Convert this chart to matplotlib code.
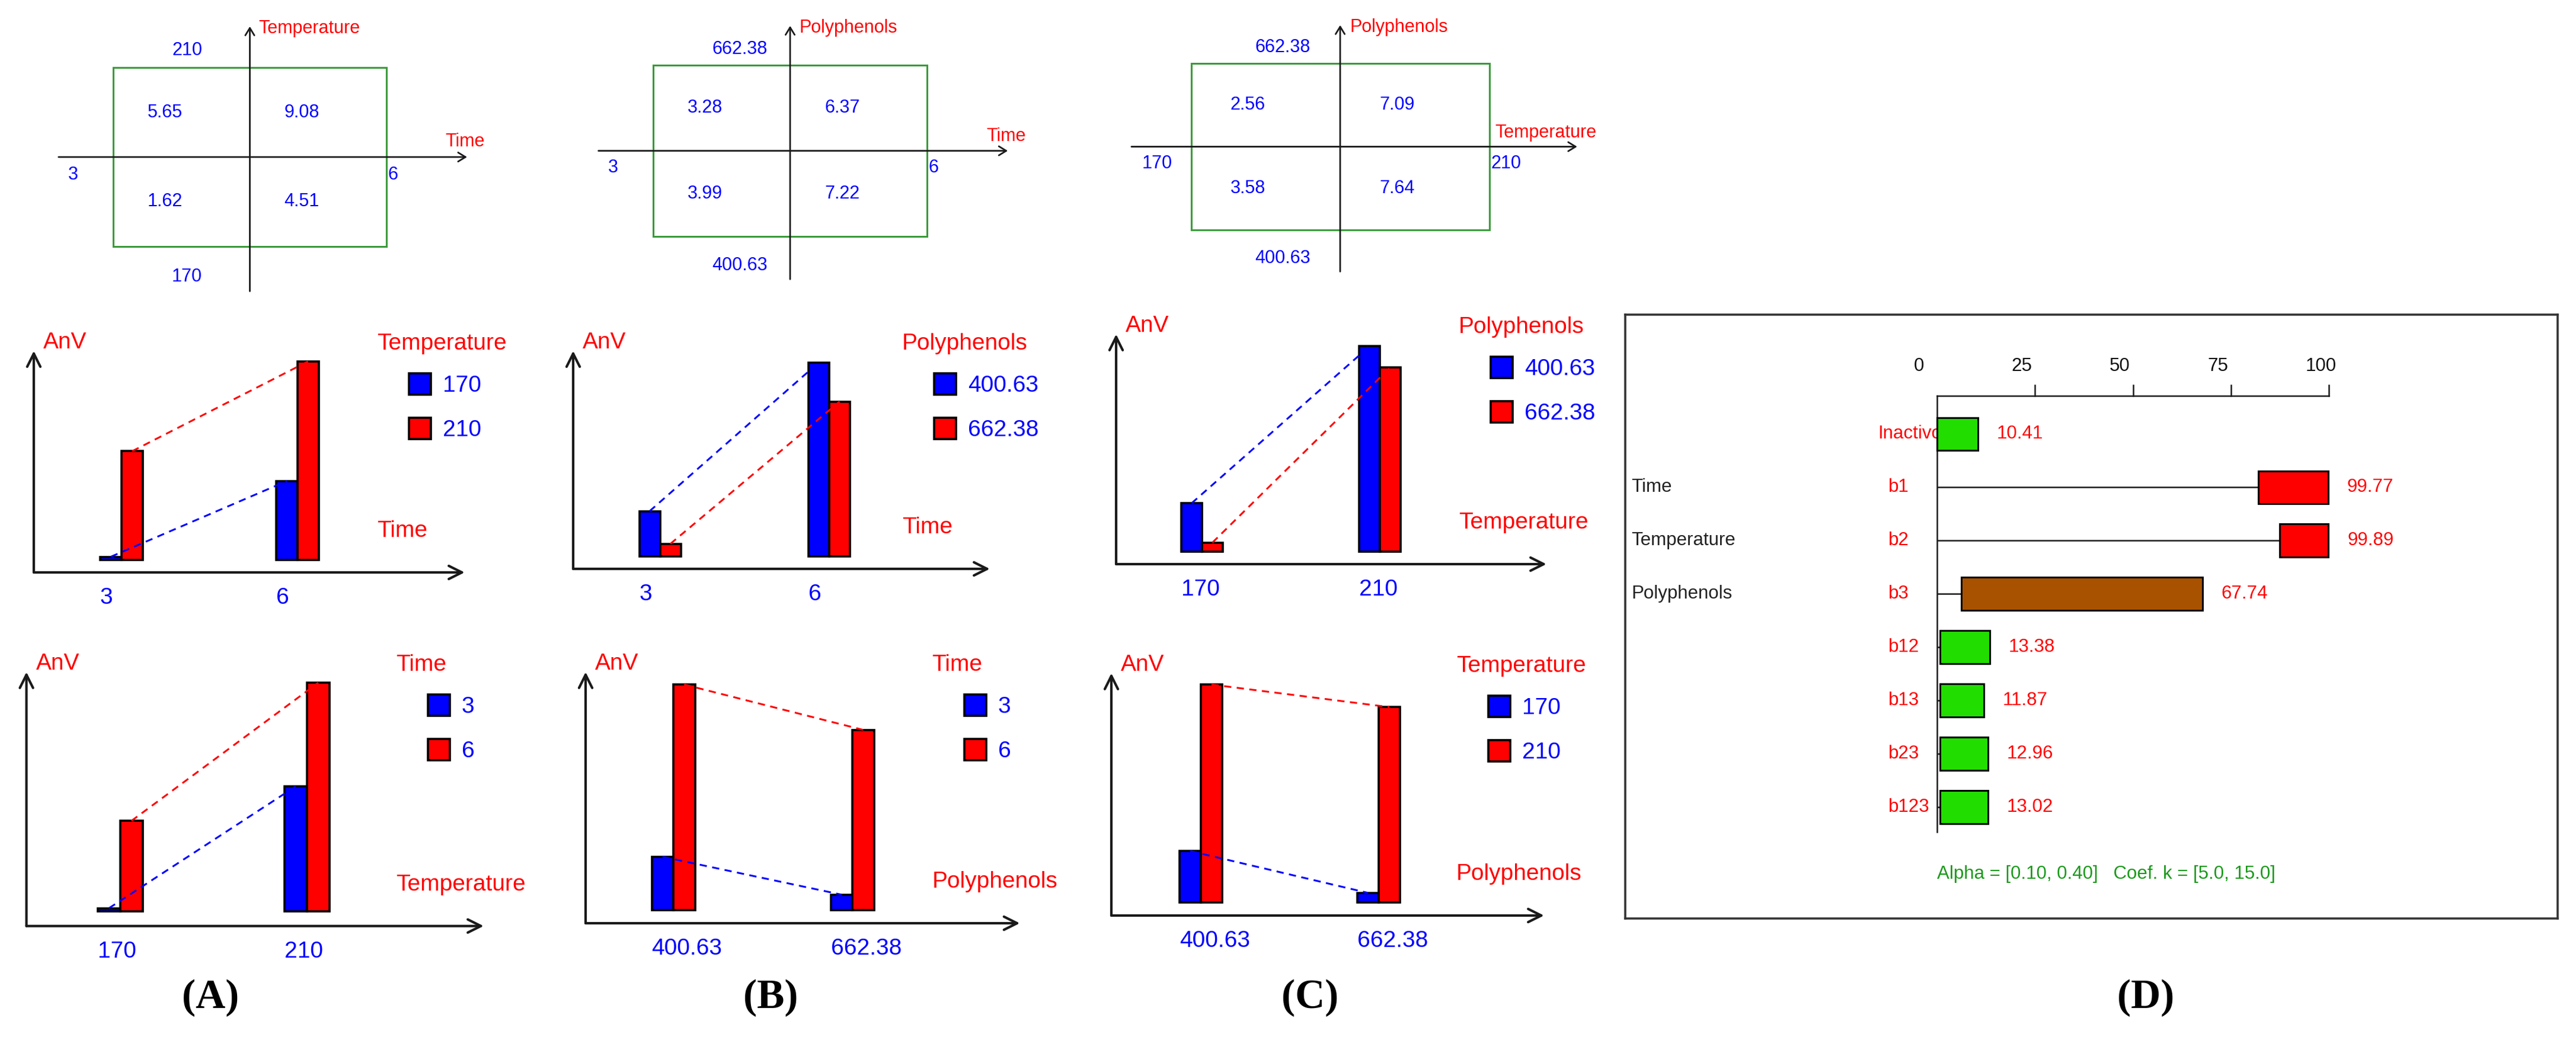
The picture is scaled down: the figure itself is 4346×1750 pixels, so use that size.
import numpy as np
import matplotlib
matplotlib.use('Agg')
import matplotlib.pyplot as plt
from matplotlib import transforms
from matplotlib import font_manager as fm
from matplotlib.patches import Rectangle

W, H = 4346, 1750

# factor levels
time_lv = ['3', '6']
temp_lv = ['170', '210']
poly_lv = ['400.63', '662.38']

# AnV at the corners of each 2x2 design, indexed [x level, y level]
anv_time_temp = np.array([[1.62, 5.65], [4.51, 9.08]])
anv_time_poly = np.array([[3.99, 3.28], [7.22, 6.37]])
anv_temp_poly = np.array([[3.58, 2.56], [7.64, 7.09]])

# effects chart (D)
eff_names = ['Inactivo', 'b1', 'b2', 'b3', 'b12', 'b13', 'b23', 'b123']
eff_factor = ['', 'Time', 'Temperature', 'Polyphenols', '', '', '', '']
eff_low = [0, 82.0, 87.5, 6.2, 0.8, 0.8, 0.8, 0.8]
eff_high = [10.41, 99.77, 99.89, 67.74, 13.38, 11.87, 12.96, 13.02]
eff_col = ['#22dd00', '#ff0000', '#ff0000', '#a85200',
           '#22dd00', '#22dd00', '#22dd00', '#22dd00']
scale_ticks = [0, 25, 50, 75, 100]
note = 'Alpha = [0.10, 0.40]   Coef. k = [5.0, 15.0]'

# fonts
plt.rcParams['font.family'] = ['Liberation Sans', 'DejaVu Sans']
try:
    fm.findfont('Liberation Sans Narrow', fallback_to_default=False)
    DFONT, DSZ = ['Liberation Sans Narrow', 'Liberation Sans'], 27
except ValueError:
    DFONT, DSZ = ['Liberation Sans', 'DejaVu Sans'], 22.5

BLUE, RED = '#0000ff', '#ff0000'
AXC = '#1a1a1a'

fig = plt.figure(figsize=(W / 100, H / 100), dpi=100)
# figure pixel coords, y measured from the top
PX = transforms.Affine2D().scale(1.0 / W, -1.0 / H).translate(0, 1) + fig.transFigure


def px_axes(x0, y0, x1, y1):
    ax = fig.add_axes([x0 / W, 1 - y1 / H, (x1 - x0) / W, (y1 - y0) / H])
    ax.set_axis_off()
    return ax


def arrow(ax, p0, p1, lw, head, coords='data'):
    ax.annotate('', xy=p1, xytext=p0, xycoords=coords, textcoords=coords,
                arrowprops=dict(arrowstyle='->,head_length=%g,head_width=%g' % head,
                                lw=lw, color=AXC, shrinkA=0, shrinkB=0,
                                mutation_scale=10),
                annotation_clip=False)


def square_panel(cx, cy, hw, hh, anv, xname, xlev, yname, ylev):
    ax = px_axes(cx - 2 * hw, cy - 2 * hh, cx + 2 * hw, cy + 2 * hh)
    ax.set_xlim(-2, 2)
    ax.set_ylim(-2, 2)
    ax.add_patch(Rectangle((-1, -1), 2, 2, fill=False, ec='#3a9a3a', lw=2.2))
    arrow(ax, (-1.40, 0), (1.59, 0), 2, (0.9, 0.55))
    arrow(ax, (0, -1.50), (0, 1.46), 2, (0.9, 0.55))
    fs = 22
    for i, sx in enumerate([-1, 1]):
        for j, sy in enumerate([-1, 1]):
            ax.text(sx * 0.5 - 0.12, sy * 0.5, '%.2f' % anv[i, j], color=BLUE,
                    fontsize=fs, ha='center', va='center')
    ax.text(-0.57, 1.19, ylev[1], color=BLUE, fontsize=fs, ha='left', va='center')
    ax.text(-0.57, -1.34, ylev[0], color=BLUE, fontsize=fs, ha='left', va='center')
    ax.text(-1.33, -0.2, xlev[0], color=BLUE, fontsize=fs, ha='left', va='center')
    ax.text(1.01, -0.2, xlev[1], color=BLUE, fontsize=fs, ha='left', va='center')
    ax.text(1.72, 0.17, xname, color=RED, fontsize=fs, ha='right', va='center')
    ax.text(0.065, 1.437, yname, color=RED, fontsize=fs, ha='left', va='center')


def bar_panel(box, g0, g1, wpx, ylim, base, xlev, blue_v, red_v, sname, slev, xname):
    left, top, right, bottom = box
    ax = px_axes(left, top, right, bottom)
    u = g1 - g0
    ax.set_xlim((left - g0) / u, (right - g0) / u)
    ax.set_ylim(*ylim)
    w = wpx / u
    pos = np.arange(len(xlev))
    ax.bar(pos - w / 2, np.asarray(blue_v) - base, width=w, bottom=base,
           color=BLUE, ec='black', lw=2.6, zorder=2)
    ax.bar(pos + w / 2, np.asarray(red_v) - base, width=w, bottom=base,
           color=RED, ec='black', lw=2.6, zorder=2)
    ax.plot(pos - w / 2, blue_v, color=BLUE, lw=2.2, ls=(0, (4, 3)), zorder=3)
    ax.plot(pos + w / 2, red_v, color=RED, lw=2.2, ls=(0, (4, 3)), zorder=3)
    arrow(ax, (0, 0), (1, 0), 3, (1.6, 0.8), 'axes fraction')
    arrow(ax, (0, 0), (0, 1), 3, (1.6, 0.8), 'axes fraction')
    fs = 28
    for p, lab in zip(pos, xlev):
        ax.annotate(lab, xy=(p - w, ylim[0]), xytext=(0, -31), textcoords='offset points',
                    color=BLUE, fontsize=fs, ha='left', va='center', annotation_clip=False)
    fig.text(left + 16, top - 14, 'AnV', transform=PX, color=RED, fontsize=fs,
             ha='left', va='center')
    tx, ty = right - 148, top - 12
    fig.text(tx, ty, sname, transform=PX, color=RED, fontsize=fs, ha='left', va='center')
    for k, (lab, col) in enumerate(zip(slev, [BLUE, RED])):
        cy = ty + 68 + 75 * k
        fig.add_artist(Rectangle((tx + 54, cy - 18), 37, 36, transform=PX,
                                 fc=col, ec='black', lw=2.6))
        fig.text(tx + 111, cy + 3, lab, transform=PX, color=BLUE, fontsize=fs,
                 ha='left', va='center')
    fig.text(tx, bottom - 70, xname, transform=PX, color=RED, fontsize=fs,
             ha='left', va='center')


# ---- top squares ----
square_panel(421.5, 265, 230.5, 151, anv_time_temp, 'Time', time_lv, 'Temperature', temp_lv)
square_panel(1333, 254.5, 231, 144.5, anv_time_poly, 'Time', time_lv, 'Polyphenols', poly_lv)
square_panel(2261, 247.5, 251.5, 140.5, anv_temp_poly, 'Temperature', temp_lv, 'Polyphenols', poly_lv)

# ---- interaction bar charts ----
bar_panel((57, 592, 784, 966), 205, 502, 36, (1.021, 9.482), 1.507, time_lv,
          anv_time_temp[:, 0], anv_time_temp[:, 1], 'Temperature', temp_lv, 'Time')
bar_panel((44.6, 1134, 816, 1562.7), 202.8, 517.9, 38, (1.030, 9.436), 1.514, temp_lv,
          anv_time_temp[0, :], anv_time_temp[1, :], 'Time', time_lv, 'Temperature')
bar_panel((967, 592, 1670, 960), 1113.5, 1399, 35, (2.736, 7.472), 3.01, time_lv,
          anv_time_poly[:, 0], anv_time_poly[:, 1], 'Polyphenols', poly_lv, 'Time')
bar_panel((988, 1134, 1720.6, 1558), 1136, 1438, 36.5, (2.744, 7.456), 2.99, poly_lv,
          anv_time_poly[0, :], anv_time_poly[1, :], 'Time', time_lv, 'Polyphenols')
bar_panel((1883, 564, 2609, 952), 2028, 2328, 35, (2.002, 7.953), 2.33, temp_lv,
          anv_temp_poly[:, 0], anv_temp_poly[:, 1], 'Polyphenols', poly_lv, 'Temperature')
bar_panel((1875, 1136, 2605, 1545), 2026, 2326, 36, (2.008, 7.918), 2.32, poly_lv,
          anv_temp_poly[0, :], anv_temp_poly[1, :], 'Temperature', temp_lv, 'Polyphenols')

# ---- panel D ----
x0, y0, x1, y1 = 2742, 531, 4315, 1550
axd = fig.add_axes([x0 / W, 1 - y1 / H, (x1 - x0) / W, (y1 - y0) / H])
axd.set_xlim(-79.6, 158.4)
axd.set_ylim(9.09, -2.24)
axd.set_xticks([])
axd.set_yticks([])
for s in axd.spines.values():
    s.set_color('#333333')
    s.set_linewidth(2.6)

rows = np.arange(len(eff_names))
axis_y = -0.718
axd.plot([0, 100], [axis_y, axis_y], color=AXC, lw=1.8)
axd.plot([0, 0], [axis_y, 7.47], color=AXC, lw=1.8)
for t in scale_ticks:
    if t > 0:
        axd.plot([t, t], [axis_y, axis_y - 0.2], color=AXC, lw=1.8)
    axd.text(t - 6, -1.27, str(t), family=DFONT, fontsize=DSZ, color='#111111',
             ha='left', va='center')

axd.hlines(rows, 0, eff_low, color=AXC, lw=1.8, zorder=2)
axd.barh(rows, np.asarray(eff_high) - np.asarray(eff_low), left=eff_low, height=0.62,
         color=eff_col, ec='black', lw=2.2, zorder=3)
for r, name, fac, hi in zip(rows, eff_names, eff_factor, eff_high):
    if r == 0:
        axd.text(1.2, r, name, family=DFONT, fontsize=DSZ, color=RED,
                 ha='right', va='center', zorder=1)
    else:
        axd.text(-12.4, r, name, family=DFONT, fontsize=DSZ, color=RED,
                 ha='left', va='center')
    if fac:
        axd.text(-78, r, fac, family=DFONT, fontsize=DSZ, color='#222222',
                 ha='left', va='center')
    axd.text(hi + 4.8, r, '%.2f' % hi, family=DFONT, fontsize=DSZ, color=RED,
             ha='left', va='center')
axd.text(0, 8.26, note, family=DFONT, fontsize=DSZ, color='#1a9a1a',
         ha='left', va='center')

# ---- panel letters ----
for lab, xc in zip(['(A)', '(B)', '(C)', '(D)'], [355, 1300, 2210, 3620]):
    fig.text(xc, 1684, lab, transform=PX, family=['Liberation Serif', 'DejaVu Serif'],
             fontweight='bold', fontsize=50, ha='center', va='center')

fig.savefig('out.png', dpi=100, facecolor='white')
